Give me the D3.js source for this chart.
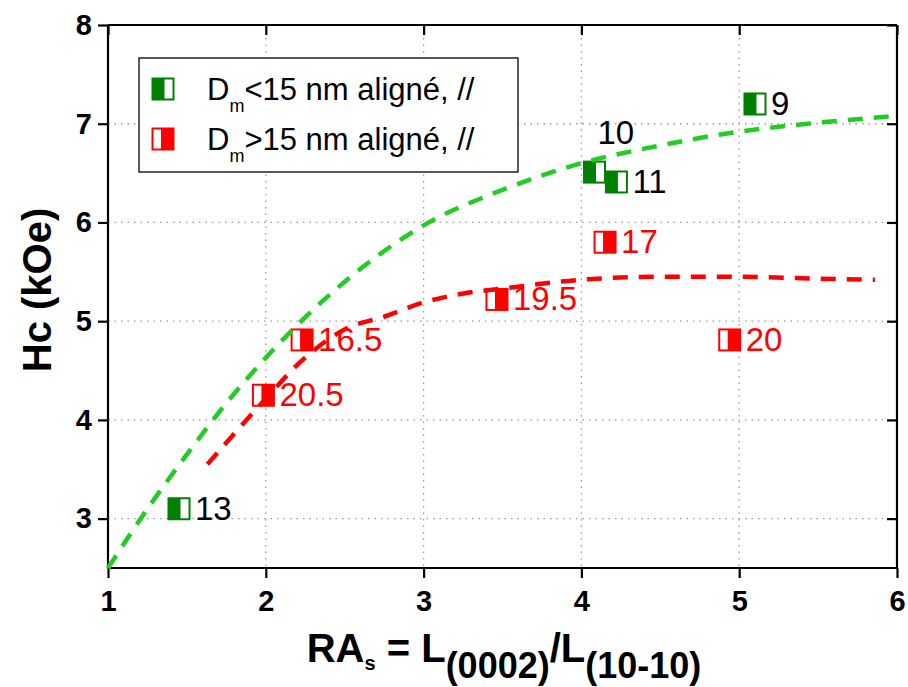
<!DOCTYPE html>
<html>
<head>
<meta charset="utf-8">
<script src="https://cdn.jsdelivr.net/npm/d3@7/dist/d3.min.js"></script>
<style>
  html, body { margin: 0; padding: 0; background: #fff; }
  svg { display: block; }
</style>
</head>
<body>
<svg id="chart" width="908" height="687"></svg>
<script>
// ---- data ----
const xTicks = [1, 2, 3, 4, 5, 6];
const yTicks = [3, 4, 5, 6, 7, 8];

const greenLabels = ["13", "10", "11", "9"];
const greenX = [1.45, 4.083, 4.222, 5.10];
const greenY = [3.10, 6.51, 6.41, 7.20];

const redLabels = ["20.5", "16.5", "19.5", "17", "20"];
const redX = [1.985, 2.23, 3.465, 4.15, 4.94];
const redY = [4.25, 4.81, 5.22, 5.80, 4.81];

// dashed guide curves
const greenCurveX = [1.0, 1.25, 1.5, 1.75, 2.0, 2.5, 3.0, 3.5, 4.0, 4.5, 5.0, 5.5, 6.0];
const greenCurveY = [2.5, 3.1, 3.65, 4.17, 4.63, 5.4, 5.97, 6.33, 6.6, 6.78, 6.92, 7.01, 7.08];
const redCurveX = [1.63, 1.98, 2.235, 2.53, 2.74, 3.0, 3.29, 3.5, 4.0, 4.5, 5.0, 5.5, 5.86];
const redCurveY = [3.55, 4.18, 4.61, 4.94, 5.04, 5.19, 5.29, 5.33, 5.42, 5.45, 5.45, 5.43, 5.42];

const legendItems = [
  { sym: "<", rest: "15 nm aligné, //", type: "green" },
  { sym: ">", rest: "15 nm aligné, //", type: "red" }
];

// ---- styles ----
const GREEN_DARK = "#008000";
const GREEN_LINE = "#22cc22";
const RED = "#ff0000";

const svg = d3.select("#chart");
const x = d3.scaleLinear().domain([1, 6]).range([108, 897]);
const y = d3.scaleLinear().domain([2.5, 8]).range([568, 25]);
const L = 108, R = 897, T = 25, B = 568;

// grid
const grid = svg.append("g");
grid.selectAll("line.gx").data(xTicks.filter(d => d > 1 && d < 6)).join("line")
  .attr("x1", d => x(d)).attr("x2", d => x(d)).attr("y1", T).attr("y2", B)
  .attr("stroke", "#9a9a9a").attr("stroke-width", 1.3).attr("stroke-dasharray", "1.5,5");
grid.selectAll("line.gy").data(yTicks.filter(d => d < 8)).join("line")
  .attr("y1", d => y(d)).attr("y2", d => y(d)).attr("x1", L).attr("x2", R)
  .attr("stroke", "#9a9a9a").attr("stroke-width", 1.3).attr("stroke-dasharray", "1.5,5");

// axes
const fontNarrow = "'Liberation Sans Narrow', 'Arial Narrow', 'Liberation Sans', Arial, sans-serif";
const fontSans = "'Liberation Sans', Arial, sans-serif";
const axB = svg.append("g").attr("transform", `translate(0,${B})`)
  .call(d3.axisBottom(x).tickValues(xTicks).tickSize(10).tickPadding(12).tickFormat(d3.format("d")));
const axL = svg.append("g").attr("transform", `translate(${L},0)`)
  .call(d3.axisLeft(y).tickValues(yTicks).tickSize(10).tickPadding(6).tickFormat(d3.format("d")));
const axT = svg.append("g").attr("transform", `translate(0,${T})`)
  .call(d3.axisBottom(x).tickValues(xTicks).tickSize(10).tickFormat(""));
const axR = svg.append("g").attr("transform", `translate(${R},0)`)
  .call(d3.axisLeft(y).tickValues(yTicks).tickSize(10).tickFormat(""));
[axB, axL, axT, axR].forEach(a => {
  a.select(".domain").attr("stroke", "#000").attr("stroke-width", 2.2);
  a.selectAll(".tick line").attr("stroke", "#000").attr("stroke-width", 2.2);
  a.selectAll("text").attr("font-family", fontNarrow).attr("font-weight", "bold")
    .attr("font-size", 29).attr("fill", "#000");
});
axB.select(".domain").attr("d", `M${L},0H${R}`);
axL.select(".domain").attr("d", `M0,${B}V${T}`);
axT.select(".domain").attr("d", `M${L},0H${R}`);
axR.select(".domain").attr("d", `M0,${B}V${T}`);

// markers
function marker(g, type) {
  const s = 21;
  g.append("rect").attr("x", -s / 2).attr("y", -s / 2).attr("width", s).attr("height", s)
    .attr("fill", "#fff").attr("stroke", type === "green" ? GREEN_DARK : RED).attr("stroke-width", 2);
  if (type === "green") {
    g.append("rect").attr("x", -s / 2).attr("y", -s / 2).attr("width", 12).attr("height", s)
      .attr("fill", GREEN_DARK);
  } else {
    g.append("rect").attr("x", -s / 2 + 8.5).attr("y", -s / 2).attr("width", s - 8.5).attr("height", s)
      .attr("fill", RED);
  }
}

function drawSeries(xs, ys, labels, type, color) {
  const g = svg.append("g");
  xs.forEach((xv, i) => {
    const m = g.append("g").attr("transform", `translate(${x(xv)},${y(ys[i])})`);
    marker(m, type);
    const lab = labels[i];
    const above = lab === "10";
    g.append("text")
      .attr("x", x(xv) + (above ? 3 : 16))
      .attr("y", y(ys[i]) + (above ? -28 : 11))
      .attr("font-family", fontSans).attr("font-size", 33)
      .attr("fill", color).text(lab);
  });
}
drawSeries(greenX, greenY, greenLabels, "green", "#000");
drawSeries(redX, redY, redLabels, "red", RED);

// dashed curves
const line = d3.line().x(d => x(d[0])).y(d => y(d[1])).curve(d3.curveMonotoneX);
svg.append("path").datum(greenCurveX.map((v, i) => [v, greenCurveY[i]]))
  .attr("d", line).attr("fill", "none").attr("stroke", GREEN_LINE)
  .attr("stroke-width", 4.5).attr("stroke-dasharray", "15,11");
svg.append("path").datum(redCurveX.map((v, i) => [v, redCurveY[i]]))
  .attr("d", line).attr("fill", "none").attr("stroke", RED)
  .attr("stroke-width", 4.5).attr("stroke-dasharray", "15,11");

// legend
const lg = svg.append("g");
lg.append("rect").attr("x", 139).attr("y", 58).attr("width", 379).attr("height", 114)
  .attr("fill", "#fff").attr("stroke", "#000").attr("stroke-width", 1.3);
legendItems.forEach((it, i) => {
  const cy = 89 + i * 50;
  const m = lg.append("g").attr("transform", `translate(163,${cy})`);
  marker(m, it.type);
  const t = lg.append("text").attr("x", 207).attr("y", cy + 11)
    .attr("font-family", fontSans).attr("font-size", 31).attr("fill", "#000");
  t.append("tspan").text("D");
  t.append("tspan").attr("font-size", 18).attr("dy", 12).text("m");
  t.append("tspan").attr("dy", -12).text(it.sym + it.rest);
});

// axis titles
svg.append("text")
  .attr("transform", "translate(51,290) rotate(-90)")
  .attr("text-anchor", "middle")
  .attr("font-family", fontSans).attr("font-weight", "bold").attr("font-size", 40)
  .attr("fill", "#000").text("Hc (kOe)");

const xt = svg.append("text").attr("x", 504).attr("y", 662).attr("text-anchor", "middle")
  .attr("font-family", fontNarrow).attr("font-weight", "bold").attr("font-size", 40).attr("fill", "#000");
xt.append("tspan").text("RA");
xt.append("tspan").attr("font-size", 20).attr("dy", 8).text("s");
xt.append("tspan").attr("dy", -8).text(" = L");
xt.append("tspan").attr("font-size", 36).attr("dy", 16).text("(0002)");
xt.append("tspan").attr("dy", -16).text("/L");
xt.append("tspan").attr("font-size", 36).attr("dy", 16).text("(10-10)");
</script>
</body>
</html>
